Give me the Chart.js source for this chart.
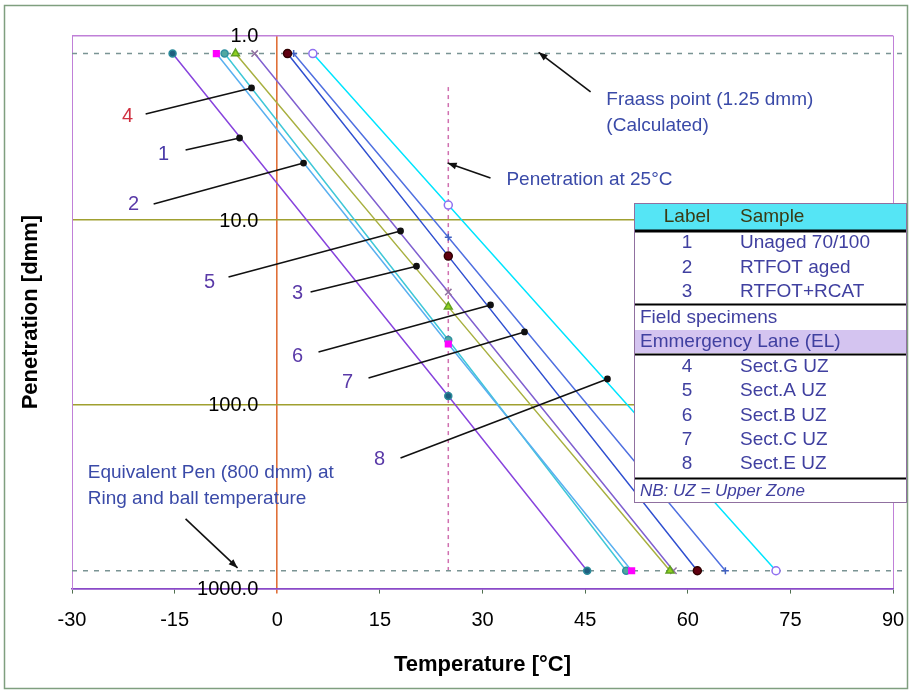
<!DOCTYPE html>
<html><head><meta charset="utf-8">
<script src="https://cdn.jsdelivr.net/npm/chart.js@4.4.1/dist/chart.umd.min.js"></script>
<style>html,body{margin:0;padding:0;background:#fff;}canvas{display:block;}</style>
</head><body>
<canvas id="c" width="910" height="691"></canvas>
<script>
// ---------- data ----------
const sampleLabels = ['1','2','3','4','5','6','7','8'];
const sampleNames  = ['Unaged 70/100','RTFOT aged','RTFOT+RCAT','Sect.G UZ','Sect.A UZ','Sect.B UZ','Sect.C UZ','Sect.E UZ'];
const fraassTemp   = [-15.3, -8.9, -6.1, -7.7, -3.3, 1.5, 2.4, 5.2];   // °C at 1.25 dmm
const pen25        = [90.2, 47.1, 29.6, 44.8, 24.6, 15.7, 12.4, 8.3];  // dmm at 25 °C
const ringBallTemp = [45.3, 51.8, 57.4, 51.0, 57.9, 61.4, 65.5, 72.9]; // °C at 800 dmm
const fraassPen = 1.25, ringBallPen = 800, penTemp = 25, penLineTop = 1.9;
const xMin = -30, xMax = 90, xStep = 15, dashedRightEnd = 91.4;
const yTickValues = [1, 10, 100, 1000];
const yTickLabels = ['1.0', '10.0', '100.0', '1000.0'];
// label pointers (data units)
const ptrFromT   = [-13.40, -18.07, 4.87, -19.24, -7.12, 6.03, 13.34, 18.02];
const ptrFromPen = [4.17, 8.19, 24.6, 2.66, 20.4, 52.0, 72.0, 195.6];
const ptrToT     = [-5.51, 3.84, 20.35, -3.76, 18.02, 31.17, 36.14, 48.26];
const ptrToPen   = [3.59, 4.91, 17.8, 1.92, 11.47, 28.9, 40.5, 72.9];
// annotations
const annotTexts = [['Fraass point (1.25 dmm)', '(Calculated)'], ['Penetration at 25°C'], ['Equivalent Pen (800 dmm) at', 'Ring and ball temperature']];
const annotT     = [48.1, 33.5, -27.7];
const annotPen   = [2.23, 6.07, 236];
const arrowFromT = [45.8, 31.17, -13.40];
const arrowFromPen = [2.02, 5.92, 418.6];
const arrowToT   = [38.2, 24.9, -5.8];
const arrowToPen = [1.23, 4.91, 772];

// ---------- styles ----------
const FONT = "'Liberation Sans', Arial, Helvetica, sans-serif";
const lineColors = ['#8844dd', '#5ab0f0', '#a8b040', '#40c8d8', '#8060d0', '#3050d0', '#5070e0', '#00e5ff'];
const markerStyle = [
  {s:'circle', bg:'#1f5f7f', bd:'#2a8a9a', r:3.5},
  {s:'rect', bg:'#ff00ff', bd:'#ff00ff', r:4},
  {s:'triangle', bg:'#90d020', bd:'#60a020', r:4.5},
  {s:'circle', bg:'#50a8a0', bd:'#3090a0', r:3.5},
  {s:'crossRot', bg:'#9070a0', bd:'#9070a0', r:4.5},
  {s:'circle', bg:'#600010', bd:'#300000', r:4},
  {s:'cross', bg:'#4060c0', bd:'#4060c0', r:3.5},
  {s:'circle', bg:'#ffffff', bd:'#9070f0', r:4}
];
const labelColors = ['#4a3aa8','#5a3aa8','#5a3aa8','#d03040','#5a3aa8','#5a3aa8','#5a3aa8','#5a3aa8'];
const labelDx = [22, 20, 13, 18, 19, 21, 21, 21];
const labelDy = [4, 0, 1, 2, 5, 5, 4, 1];

// ---------- datasets ----------
const datasets = [];
for (let i = 0; i < sampleLabels.length; i++) {
  datasets.push({ kind:'ptr', idx:i, data:[{x:ptrFromT[i], y:ptrFromPen[i]}, {x:ptrToT[i], y:ptrToPen[i]}],
    borderColor:'#111', borderWidth:1.6, pointRadius:[0, 2.6], pointBackgroundColor:'#111', pointBorderColor:'#111', showLine:true });
}
for (let i = 0; i < arrowFromT.length; i++) {
  datasets.push({ kind:'arrow', idx:i, data:[{x:arrowFromT[i], y:arrowFromPen[i]}, {x:arrowToT[i], y:arrowToPen[i]}],
    borderColor:'#111', borderWidth:1.6, pointRadius:0, showLine:true });
}
for (let i = 0; i < sampleLabels.length; i++) {
  const m = markerStyle[i];
  datasets.push({ kind:'sample', label: sampleNames[i],
    data:[{x:fraassTemp[i], y:fraassPen}, {x:penTemp, y:pen25[i]}, {x:ringBallTemp[i], y:ringBallPen}],
    borderColor: lineColors[i], borderWidth:1.5, showLine:true,
    pointStyle:m.s, pointRadius:m.r, pointBackgroundColor:m.bg, pointBorderColor:m.bd, pointBorderWidth:1.5 });
}
datasets.push({ kind:'ref', data:[{x:xMin, y:fraassPen}, {x:dashedRightEnd, y:fraassPen}], borderColor:'#7a9494', borderWidth:1.5, borderDash:[5,6], pointRadius:0, showLine:true, clip:false });
datasets.push({ kind:'ref', data:[{x:xMin, y:ringBallPen}, {x:dashedRightEnd, y:ringBallPen}], borderColor:'#7a9494', borderWidth:1.5, borderDash:[5,6], pointRadius:0, showLine:true, clip:false });
datasets.push({ kind:'ref', data:[{x:penTemp, y:penLineTop}, {x:penTemp, y:ringBallPen}], borderColor:'#d070b0', borderWidth:1.5, borderDash:[4,4], pointRadius:0, showLine:true });

// ---------- plugins ----------
const decor = {
  id:'decor',
  beforeDraw(chart) {
    const c = chart.ctx;
    c.save();
    c.fillStyle = '#fff'; c.fillRect(0, 0, chart.width, chart.height);
    c.strokeStyle = '#7f9f7f'; c.lineWidth = 1.5;
    c.strokeRect(4.5, 5.5, 903, 683);
    c.restore();
  },
  afterDatasetsDraw(chart) {
    const c = chart.ctx, xs = chart.scales.x, ys = chart.scales.y;
    c.save();
    chart.data.datasets.forEach((ds, di) => {
      if (ds.kind !== 'arrow') return;
      const pts = chart.getDatasetMeta(di).data;
      const a = pts[0], b = pts[1];
      const ang = Math.atan2(b.y - a.y, b.x - a.x);
      const L = 9, W = 3.5;
      c.fillStyle = '#111';
      c.beginPath();
      c.moveTo(b.x, b.y);
      c.lineTo(b.x - L*Math.cos(ang) + W*Math.sin(ang), b.y - L*Math.sin(ang) - W*Math.cos(ang));
      c.lineTo(b.x - L*Math.cos(ang) - W*Math.sin(ang), b.y - L*Math.sin(ang) + W*Math.cos(ang));
      c.closePath(); c.fill();
    });
    c.font = '20px ' + FONT; c.textAlign = 'center'; c.textBaseline = 'middle';
    chart.data.datasets.forEach((ds, di) => {
      if (ds.kind !== 'ptr') return;
      const p = chart.getDatasetMeta(di).data[0];
      c.fillStyle = labelColors[ds.idx];
      c.fillText(sampleLabels[ds.idx], p.x - labelDx[ds.idx], p.y + labelDy[ds.idx]);
    });
    c.font = '19px ' + FONT; c.textAlign = 'left'; c.fillStyle = '#3a4aa8';
    annotTexts.forEach((lines, i) => {
      const x = xs.getPixelForValue(annotT[i]), y = ys.getPixelForValue(annotPen[i]);
      lines.forEach((t, k) => c.fillText(t, x, y + k * 25.5));
    });
    c.font = '20px ' + FONT; c.textAlign = 'right'; c.fillStyle = '#000';
    const x0 = xs.getPixelForValue(0) - 19;
    yTickValues.forEach((v, i) => c.fillText(yTickLabels[i], x0, ys.getPixelForValue(v) + 1));
    c.save();
    c.translate(31, (chart.chartArea.top + chart.chartArea.bottom) / 2);
    c.rotate(-Math.PI / 2);
    c.font = 'bold 22px ' + FONT; c.textAlign = 'center'; c.fillStyle = '#000';
    c.fillText('Penetration [dmm]', 0, 0);
    c.restore();
    const L = 634, R = 907, T = 203, B = 503;
    c.fillStyle = '#fff'; c.fillRect(L, T, R - L, B - T);
    c.fillStyle = '#55e5f5'; c.fillRect(L, T, R - L, 27);
    c.fillStyle = '#d4c4f0'; c.fillRect(L, 330, R - L, 23);
    c.strokeStyle = '#000';
    [[231, 3], [304.5, 2], [354.5, 2], [478.5, 2]].forEach(([y, w]) => {
      c.lineWidth = w; c.beginPath(); c.moveTo(L, y); c.lineTo(R, y); c.stroke();
    });
    c.lineWidth = 1; c.strokeStyle = '#9070a0'; c.strokeRect(L + 0.5, T + 0.5, R - L - 1, B - T - 1);
    c.font = '19px ' + FONT; c.textBaseline = 'middle';
    c.fillStyle = '#3a3a14';
    c.textAlign = 'center'; c.fillText('Label', 687, 217);
    c.textAlign = 'left'; c.fillText('Sample', 740, 217);
    c.fillStyle = '#4040a0';
    const rowY = [243, 268, 292, 367, 391, 416, 440, 464];
    rowY.forEach((y, i) => {
      c.textAlign = 'center'; c.fillText(sampleLabels[i], 687, y);
      c.textAlign = 'left'; c.fillText(sampleNames[i], 740, y);
    });
    c.fillText('Field specimens', 640, 318);
    c.fillText('Emmergency Lane (EL)', 640, 342);
    c.font = 'italic 17px ' + FONT;
    c.fillText('NB: UZ = Upper Zone', 640, 491);
    c.restore();
  }
};

const xTickVals = [];
for (let v = xMin; v <= xMax; v += xStep) xTickVals.push(v);

new Chart(document.getElementById('c'), {
  type: 'scatter',
  data: { datasets },
  options: {
    responsive: false, animation: false, devicePixelRatio: 1,
    layout: { padding: { left: 72, right: 17, top: 35.7, bottom: 0 } },
    plugins: { legend: { display: false }, tooltip: { enabled: false } },
    scales: {
      x: {
        type: 'linear', min: xMin, max: xMax, position: 'bottom',
        afterBuildTicks: s => { s.ticks = xTickVals.map(v => ({ value: v })); },
        ticks: { font: { family: FONT, size: 20, lineHeight: 2.4 }, color: '#000', padding: 2.4, maxRotation: 0, autoSkip: false },
        grid: {
          lineWidth: ctx => (ctx.tick && ctx.tick.value === 0) ? 1.6 : 1,
          color: ctx => { const v = ctx.tick && ctx.tick.value; return v === 0 ? '#e07038' : (v === xMin || v === xMax) ? '#c080d8' : 'rgba(0,0,0,0)'; },
          tickColor: ctx => (ctx.tick && ctx.tick.value === 0) ? '#e07038' : '#507050',
          tickLength: 5
        },
        border: { color: '#8a4ac8', width: 1.6 },
        title: { display: true, text: 'Temperature [°C]', font: { family: FONT, size: 22, weight: 'bold' }, color: '#000', padding: { top: 0, bottom: 13 } },
        afterFit: s => { s.height = 691 - 588.6; }
      },
      y: {
        type: 'logarithmic', min: 1, max: 1000, reverse: true, position: 'left',
        afterBuildTicks: s => { s.ticks = yTickValues.map(v => ({ value: v })); },
        ticks: { display: false },
        grid: {
          drawTicks: false, lineWidth: 1.5,
          color: ctx => { const v = ctx.tick && ctx.tick.value; return v === 1 ? '#c080d8' : v === 1000 ? '#8a4ac8' : '#a0a030'; }
        },
        border: { display: true, color: '#c080d8', width: 1 },
        afterFit: s => { s.width = 0; }
      }
    }
  },
  plugins: [decor]
});
</script>
</body></html>
